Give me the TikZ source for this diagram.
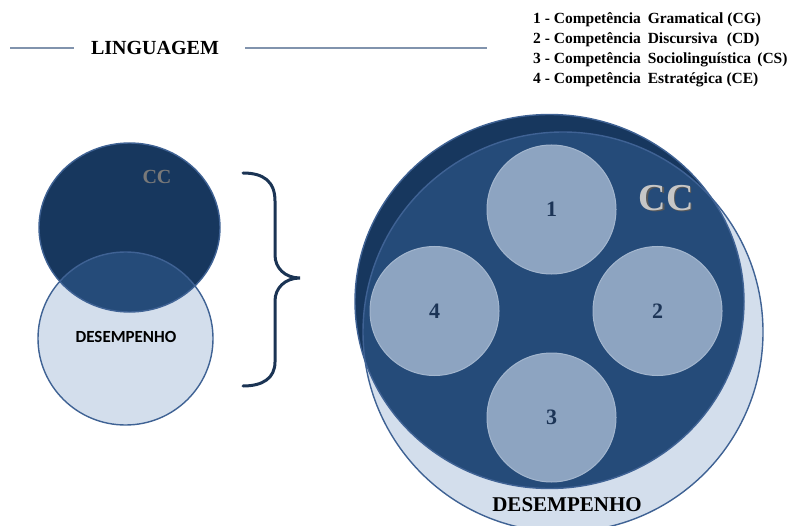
\documentclass[tikz,border=0pt]{standalone}
\usepackage{fontspec}
\setmainfont{Liberation Serif}
\newfontfamily\calibri{Carlito}
\definecolor{navy}{HTML}{17375E}
\definecolor{midblue}{HTML}{254B79}
\definecolor{paleblue}{HTML}{D3DEEC}
\definecolor{ringline}{HTML}{3F6294}
\definecolor{subfill}{HTML}{8DA4C1}
\definecolor{subline}{HTML}{A3B6CE}
\definecolor{rulecol}{HTML}{8193AD}
\definecolor{numcol}{HTML}{1C3456}
\definecolor{bracecol}{HTML}{1B3454}
\begin{document}
\begin{tikzpicture}[x=1pt,y=-1pt,
  rulestyle/.style={draw=rulecol,line width=1.5pt},
  keytext/.style={anchor=west,inner sep=0pt,font=\bfseries\fontsize{15.5}{18}\selectfont},
  ring/.style={draw=ringline,line width=1.4pt},
  subcircle/.style={circle,fill=subfill,draw=subline,line width=1pt,minimum size=129pt,inner sep=0pt,
    text=numcol,font=\bfseries\fontsize{22}{24}\selectfont}]
\useasboundingbox (0,0) rectangle (791,526);

% title with its two rules
\node[inner sep=0pt,font=\bfseries\fontsize{20}{24}\selectfont] (lang) at (155,48) {LINGUAGEM};
\coordinate (ra) at (10,48);
\coordinate (rb) at (74,48);
\coordinate (rc) at (245,48);
\coordinate (rd) at (487,48);
\draw[rulestyle] (ra) -- (rb);
\draw[rulestyle] (rc) -- (rd);

% key to the numbered circles
\node[keytext] (k1) at (533,20) {1 - Competência\hspace{0.45em}Gramatical (CG)};
\node[keytext] (k2) at (533,40) {2 - Competência\hspace{0.45em}Discursiva\hspace{0.6em}(CD)};
\node[keytext] (k3) at (533,60) {3 - Competência\hspace{0.45em}Sociolinguística\hspace{0.4em}(CS)};
\node[keytext] (k4) at (533,80) {4 - Competência\hspace{0.45em}Estratégica (CE)};

% small pair of overlapping circles
\fill[paleblue] (125.5,338.5) ellipse [x radius=87.5pt, y radius=86.5pt];
\fill[navy] (129.5,227.5) ellipse [x radius=90.5pt, y radius=84.5pt];
\begin{scope}
  \clip (125.5,338.5) ellipse [x radius=87.5pt, y radius=86.5pt];
  \fill[midblue] (129.5,227.5) ellipse [x radius=90.5pt, y radius=84.5pt];
\end{scope}
\draw[ring] (125.5,338.5) ellipse [x radius=87.5pt, y radius=86.5pt];
\draw[ring] (129.5,227.5) ellipse [x radius=90.5pt, y radius=84.5pt];
\node[text=gray!95!black,font=\bfseries\fontsize{20}{22}\selectfont] (ccs) at (157,177) {CC};
\node[font=\calibri\bfseries\fontsize{17}{19}\selectfont] (dess) at (126,337) {DESEMPENHO};

% brace
\draw[bracecol,line width=3pt,line cap=round]
  (243,173) .. controls (263,173) and (275,181) .. (275,201) -- (275,255)
  .. controls (275,268) and (285,278) .. (300,278)
  .. controls (285,278) and (275,288) .. (275,301) -- (275,362)
  .. controls (275,378) and (263,386) .. (243,386);

% large pair of circles
\fill[paleblue] (563,332) ellipse [x radius=200pt, y radius=200pt];
\fill[navy] (549.5,301.5) ellipse [x radius=194.5pt, y radius=187pt];
\begin{scope}
  \clip (563,332) ellipse [x radius=200pt, y radius=200pt];
  \fill[midblue] (549.5,301.5) ellipse [x radius=194.5pt, y radius=187pt];
\end{scope}
\draw[ring] (563,332) ellipse [x radius=200pt, y radius=200pt];
\draw[ring] (549.5,301.5) ellipse [x radius=194.5pt, y radius=187pt];

% the four competences
\node[subcircle] (c1) at (551.5,209.5) {1};
\node[subcircle] (c2) at (657.5,311) {2};
\node[subcircle] (c3) at (551.5,417.5) {3};
\node[subcircle] (c4) at (434.5,311) {4};

\node[text=gray!70!black,font=\bfseries\fontsize{38}{40}\selectfont] (ccshadow) at (667.5,199.5) {CC};
\node[text=gray!45,font=\bfseries\fontsize{38}{40}\selectfont] (ccb) at (666,198) {CC};
\node[font=\bfseries\fontsize{21}{23}\selectfont] (desb) at (567,505) {DESEMPENHO};
\end{tikzpicture}
\end{document}
